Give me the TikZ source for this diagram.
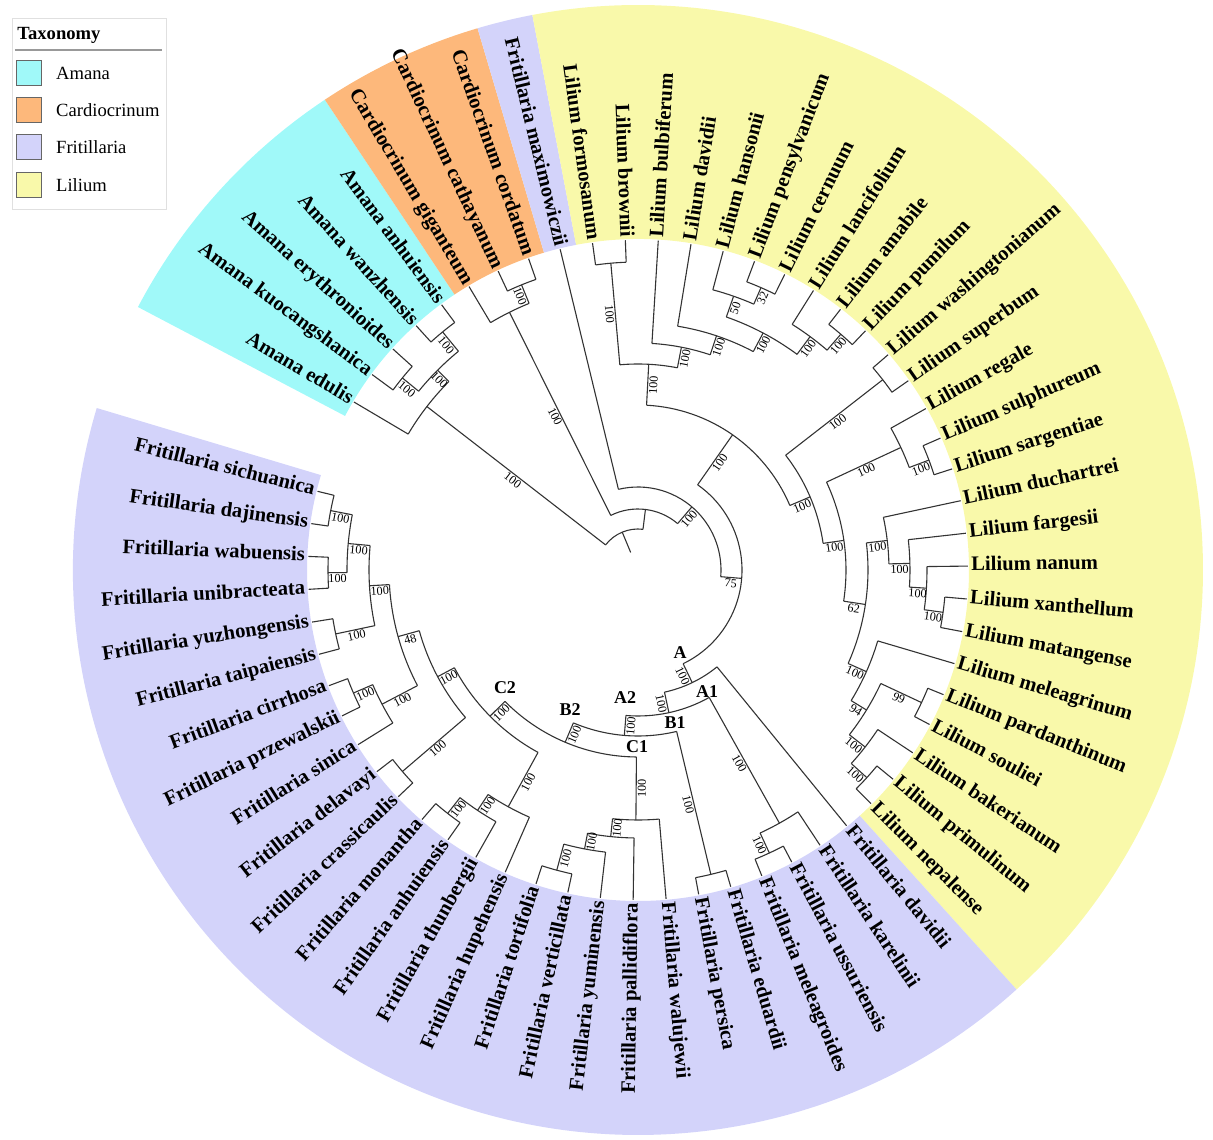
\documentclass[tikz,border=0pt]{standalone}
\usepackage{fontspec}
\setmainfont{Liberation Serif}
\usetikzlibrary{positioning}
\definecolor{amanaC}{HTML}{A0F9F9}
\definecolor{cardioC}{HTML}{FDB87B}
\definecolor{fritC}{HTML}{D3D3FA}
\definecolor{liliumC}{HTML}{F9F9AA}
\newcommand{\rtip}{330}
% stem from parent radius, arc over the children, support value on the stem
\newcommand{\clade}[6]{%
  \draw[branch] (#1:#2) -- (#1:#3);
  \draw[branch] (#4:#3) arc[start angle=#4, end angle=#5, radius=#3];
  \pgfmathsetmacro{\bsr}{(#2+#3)/2}%
  \pgfmathsetmacro{\bsrot}{cos(#1)>=0 ? #1 : #1+180}%
  \node[bootlbl, rotate=\bsrot] at (#1:\bsr) {#6};}
\newcommand{\ringpart}[3]{%
  \fill[#1] (#2:331) arc[start angle=#2, end angle=#3, radius=331]
    -- (#3:565) arc[start angle=#3, end angle=#2, radius=565] -- cycle;}

\begin{document}
\begin{tikzpicture}[x=0.5pt, y=0.5pt,
    branch/.style={line width=0.55pt, black!80},
    bootlbl/.style={font=\fontsize{6.1}{7}\selectfont, inner sep=0.6pt, anchor=north},
    taxlbl/.style={font=\bfseries\fontsize{10.3}{12}\selectfont, inner sep=0pt},
    cladelbl/.style={font=\bfseries\fontsize{9}{10}\selectfont, inner sep=0pt},
    legtxt/.style={font=\fontsize{9.3}{11}\selectfont, inner sep=0pt}]
    \useasboundingbox (-638,-569) rectangle (575,570);

    % Taxonomy ring
    \ringpart{amanaC}{152.26}{123.66}
    \ringpart{cardioC}{123.66}{106.5}
    \ringpart{fritC}{106.5}{100.78}
    \ringpart{liliumC}{100.78}{-47.94}
    \ringpart{fritC}{-47.94}{-196.66}

    % root
    \draw[branch] (112.63:19) -- (112.63:41);
    \draw[branch] (142.25:41) arc[start angle=142.25, end angle=83.0, radius=41];

    % Amana, Cardiocrinum
    \clade{142.25}{41}{267}{149.4}{135.1}{100}
    \clade{135.1}{267}{283}{140.82}{129.38}{100}
    \clade{140.82}{283}{304}{143.68}{137.96}{100}
    \clade{129.38}{283}{308}{132.24}{126.52}{100}
    \clade{83.0}{41}{61}{116.51}{49.5}{}
    \clade{116.51}{61}{288}{120.8}{112.22}{100}
    \clade{112.22}{288}{308}{115.08}{109.36}{100}
    \clade{49.5}{61}{83}{103.64}{-4.63}{100}
    \clade{-4.63}{83}{104}{55.02}{-64.285}{75}

    % Lilium
    \clade{55.02}{104}{165}{87.02}{23.02}{100}
    \clade{87.02}{165}{206}{95.06}{78.97}{100}
    \clade{95.06}{206}{308}{97.92}{92.2}{100}
    \clade{78.97}{206}{227}{86.48}{71.465}{100}
    \clade{71.465}{227}{247}{80.76}{62.17}{100}
    \clade{62.17}{247}{268}{70.75}{53.59}{100}
    \clade{70.75}{268}{290}{75.04}{66.46}{50}
    \clade{66.46}{290}{308}{69.32}{63.6}{32}
    \clade{53.59}{268}{290}{57.88}{49.3}{100}
    \clade{49.3}{290}{311}{52.16}{46.44}{100}
    \clade{23.02}{165}{187}{37.86}{8.19}{100}
    \clade{37.86}{187}{310}{40.72}{35.0}{100}
    \clade{8.19}{187}{208}{24.99}{-8.62}{100}
    \clade{24.99}{208}{290}{29.28}{20.7}{100}
    \clade{20.7}{290}{311}{23.56}{17.84}{100}
    \clade{-8.62}{208}{230}{6.76}{-23.99}{62}
    \clade{6.76}{230}{251}{12.12}{1.395}{100}
    \clade{1.395}{251}{272}{6.4}{-3.61}{100}
    \clade{-3.61}{272}{289}{0.68}{-7.9}{100}
    \clade{-7.9}{289}{308}{-5.04}{-10.76}{100}
    \clade{-23.99}{230}{250}{-16.48}{-31.5}{100}
    \clade{-31.5}{250}{268}{-25.06}{-37.93}{94}
    \clade{-25.06}{268}{313}{-22.2}{-27.92}{99}
    \clade{-37.93}{268}{288}{-33.64}{-42.22}{100}
    \clade{-42.22}{288}{309}{-39.36}{-45.08}{100}

    % Fritillaria
    \clade{-64.285}{104}{125}{-50.8}{-77.77}{100}
    \clade{-77.77}{125}{146}{-60.81}{-94.73}{100}
    \clade{-60.81}{146}{290}{-56.52}{-65.1}{100}
    \clade{-65.1}{290}{312}{-62.24}{-67.96}{100}
    \clade{-94.73}{146}{166}{-76.54}{-112.915}{100}
    \clade{-76.54}{166}{313}{-73.68}{-79.4}{100}
    \clade{-112.915}{166}{187}{-90.48}{-135.35}{100}
    \clade{-90.48}{187}{250}{-85.12}{-95.845}{100}
    \clade{-95.845}{250}{268}{-90.84}{-100.85}{100}
    \clade{-100.85}{268}{284}{-96.56}{-105.14}{100}
    \clade{-105.14}{284}{311}{-102.28}{-108}{100}
    \clade{-135.35}{187}{208}{-118.725}{-151.97}{100}
    \clade{-118.725}{208}{270}{-113.72}{-123.73}{100}
    \clade{-123.73}{270}{289}{-119.44}{-128.02}{100}
    \clade{-128.02}{289}{309}{-125.16}{-130.88}{100}
    \clade{-151.97}{208}{227}{-139.46}{-164.485}{100}
    \clade{-139.46}{227}{310}{-136.6}{-142.32}{100}
    \clade{-164.485}{227}{249}{-152.33}{-176.64}{48}
    \clade{-152.33}{249}{289}{-148.04}{-156.62}{100}
    \clade{-156.62}{289}{310}{-153.76}{-159.48}{100}
    \clade{-176.64}{249}{269}{-168.06}{-185.22}{100}
    \clade{-168.06}{269}{309}{-165.2}{-170.92}{100}
    \clade{-185.22}{269}{291}{-179.5}{-190.94}{100}
    \clade{-179.5}{291}{310}{-176.64}{-182.36}{100}
    \clade{-190.94}{291}{313}{-188.08}{-193.8}{100}

    % leaves: name / radius of parent
    \foreach \nm/\pr [count=\i] in {Amana edulis/267, Amana kuocangshanica/304,
        Amana erythronioides/304, Amana wanzhensis/308, Amana anhuiensis/308,
        Cardiocrinum giganteum/288, Cardiocrinum cathayanum/308, Cardiocrinum cordatum/308,
        Fritillaria maximowiczii/83, Lilium formosanum/308, Lilium brownii/308,
        Lilium bulbiferum/227, Lilium davidii/247, Lilium hansonii/290,
        Lilium pensylvanicum/308, Lilium cernuum/308, Lilium lancifolium/290,
        Lilium amabile/311, Lilium pumilum/311, Lilium washingtonianum/310,
        Lilium superbum/310, Lilium regale/290, Lilium sulphureum/311,
        Lilium sargentiae/311, Lilium duchartrei/251, Lilium fargesii/272,
        Lilium nanum/289, Lilium xanthellum/308, Lilium matangense/308,
        Lilium meleagrinum/250, Lilium pardanthinum/313, Lilium souliei/313,
        Lilium bakerianum/288, Lilium primulinum/309, Lilium nepalense/309,
        Fritillaria davidii/125, Fritillaria karelinii/290, Fritillaria ussuriensis/312,
        Fritillaria meleagroides/312, Fritillaria eduardii/313, Fritillaria persica/313,
        Fritillaria walujewii/250, Fritillaria pallidiflora/268, Fritillaria yuminensis/284,
        Fritillaria verticillata/311, Fritillaria tortifolia/311, Fritillaria hupehensis/270,
        Fritillaria thunbergii/289, Fritillaria anhuiensis/309, Fritillaria monantha/309,
        Fritillaria crassicaulis/310, Fritillaria delavayi/310, Fritillaria sinica/289,
        Fritillaria przewalskii/310, Fritillaria cirrhosa/310, Fritillaria taipaiensis/309,
        Fritillaria yuzhongensis/309, Fritillaria unibracteata/310, Fritillaria wabuensis/310,
        Fritillaria dajinensis/313, Fritillaria sichuanica/313}{
      \pgfmathsetmacro{\ang}{149.4-(\i-1)*5.72}
      \draw[branch] (\ang:\pr) -- (\ang:\rtip);
      \pgfmathtruncatemacro{\rt}{cos(\ang)>=0}
      \ifnum\rt=1
        \node[taxlbl, anchor=mid west, rotate=\ang] (leaf\i) at (\ang:333) {\nm};
      \else
        \node[taxlbl, anchor=mid east, rotate=\ang+180] (leaf\i) at (\ang:333) {\nm};
      \fi
    }

    % clade letters
    \node[cladelbl] (cA) at (42,-83) {A};
    \node[cladelbl] (cA1) at (69,-122) {A1};
    \node[cladelbl] (cA2) at (-13,-128) {A2};
    \node[cladelbl] (cB1) at (37,-153) {B1};
    \node[cladelbl] (cB2) at (-68,-140) {B2};
    \node[cladelbl] (cC1) at (-1,-177) {C1};
    \node[cladelbl] (cC2) at (-133,-118) {C2};

    % legend
    \draw[black!12, fill=white] (-626,552) rectangle (-472,361);
    \node[font=\bfseries\fontsize{9.3}{11}\selectfont, inner sep=0pt, anchor=west] (legtitle) at (-621,535) {Taxonomy};
    \draw[black!40, line width=0.8pt] (-623,520) -- (-476,520);
    \foreach \col/\nm/\y [count=\k] in {amanaC/Amana/497, cardioC/Cardiocrinum/460,
        fritC/Fritillaria/423, liliumC/Lilium/385}{
      \node[draw=black!60, fill=\col, minimum size=12.5pt, inner sep=0pt, anchor=west] (sw\k) at (-622,\y) {};
      \node[legtxt, right=7pt of sw\k] (lt\k) {\nm};
    }
\end{tikzpicture}
\end{document}
